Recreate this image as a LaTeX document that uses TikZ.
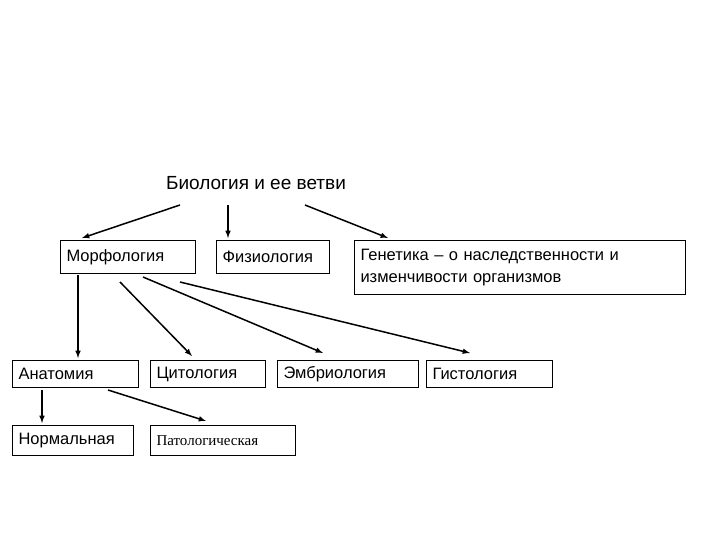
\documentclass[tikz,border=0pt]{standalone}
\usepackage{fontspec}
\setmainfont{Liberation Sans}
\newfontfamily\serifx{Liberation Serif}
\begin{document}
\begin{tikzpicture}[x=1pt,y=-1pt,
  box/.style 2 args={draw,line width=1pt,inner xsep=6pt,inner ysep=0pt,anchor=north west,align=left,
     text width=#1-12pt,minimum height=#2,font=\fontsize{16.5}{22}\selectfont},
  arr/.style={-latex,line width=1.5pt}]
\useasboundingbox (0,0) rectangle (720,540);
\node[font=\fontsize{19}{22}\selectfont] (title) at (256,183) {Биология и ее ветви};
\node[box={135pt}{33pt}] (morph) at (60,240) {Морфология};
\node[box={113pt}{33pt}] (fiz) at (216,240) {Физиология};
\node[box={331pt}{54pt}] (gen) at (354,240) {Генетика – о наследственности и\\изменчивости организмов};
\node[box={126pt}{27pt}] (anat) at (12,360) {Анатомия};
\node[box={115pt}{27pt}] (cit) at (150,360) {Цитология};
\node[box={141pt}{27pt}] (emb) at (277,360) {Эмбриология};
\node[box={126pt}{27pt}] (gis) at (426,360) {Гистология};
\node[box={121pt}{30pt}] (norm) at (12,425) {Нормальная};
\node[box={145pt}{30pt},font=\serifx\fontsize{15}{18}\selectfont] (pat) at (150,425) {Патологическая};
\coordinate (t1) at (180,205); \coordinate (t2) at (228,205); \coordinate (t3) at (305,205);
\coordinate (m1) at (78,275); \coordinate (m2) at (120,282); \coordinate (m3) at (143,277); \coordinate (m4) at (180,282);
\coordinate (a1) at (42,390); \coordinate (a2) at (108,390);
\draw[arr] (t1) -- (82,238);
\draw[arr] (t2) -- (228,238);
\draw[arr] (t3) -- (388,238);
\draw[arr] (m1) -- (78,358);
\draw[arr] (m2) -- (192,356);
\draw[arr] (m3) -- (323,353);
\draw[arr] (m4) -- (470,353);
\draw[arr] (a1) -- (42,423);
\draw[arr] (a2) -- (206,421);
\end{tikzpicture}
\end{document}
